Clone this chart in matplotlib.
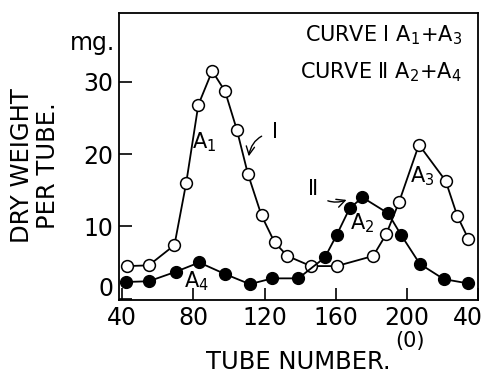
import matplotlib
matplotlib.use("Agg")
import matplotlib.pyplot as plt
from matplotlib.transforms import ScaledTranslation

# Curve I (open circles): A1 + A3
tube_I = [42.8, 55, 69.4, 76, 82.8, 90.6, 97.8, 104.4, 110.6, 118.3, 125.6,
          132.8, 146, 160.5, 181, 188.3, 195.6, 206.7, 221.7, 228.3, 234.4]
weight_I = [4.5, 4.6, 7.4, 16.0, 26.8, 31.5, 28.7, 23.4, 17.3, 11.5, 7.8,
            5.9, 4.5, 4.5, 5.9, 8.9, 13.4, 21.3, 16.3, 11.4, 8.3]

# Curve II (filled circles): A2 + A4
tube_II = [42.2, 55, 70, 83.3, 97.8, 111.7, 124.4, 139, 153.9, 160.5, 167.8,
           175, 189.4, 196.7, 207.2, 220.6, 234.4]
weight_II = [2.3, 2.4, 3.7, 5.0, 3.4, 2.0, 2.8, 2.8, 5.7, 8.8, 12.5,
             14.0, 11.8, 8.8, 4.8, 2.7, 2.1]

x_ticks = [40, 80, 120, 160, 200, 240]
x_tick_labels = ["40", "80", "120", "160", "200", "40"]
y_ticks = [0, 10, 20, 30]

plt.rcParams["font.family"] = ["DejaVu Sans"]

fig = plt.figure(figsize=(4.86, 3.76), dpi=100)
ax = fig.add_axes([0.245, 0.202, 0.739, 0.763])

ax.plot(tube_I, weight_I, color="black", lw=1.3, marker="o", ms=8.5,
        mfc="white", mec="black", mew=1.1, zorder=3)
ax.plot(tube_II, weight_II, color="black", lw=1.3, marker="o", ms=8.5,
        mfc="black", mec="black", zorder=4)

ax.set_xlim(38.3, 237.8)
ax.set_ylim(-0.2, 39.5)
ax.set_xticks(x_ticks)
ax.set_xticklabels(x_tick_labels)
ax.set_yticks(y_ticks)
ax.tick_params(direction="in", length=9, width=1.2, labelsize=17, pad=4)
for s in ax.spines.values():
    s.set_linewidth(1.3)

# hand-drawn original: "0" sits a bit high, last "40" tucked inside
ax.get_yticklabels()[0].set_transform(
    ax.get_yticklabels()[0].get_transform()
    + ScaledTranslation(0, 12 / 100, fig.dpi_scale_trans))
ax.get_xticklabels()[-1].set_transform(
    ax.get_xticklabels()[-1].get_transform()
    + ScaledTranslation(-10 / 100, 0, fig.dpi_scale_trans))

ax.set_xlabel("TUBE NUMBER.", fontsize=17.5, labelpad=15)
ax.set_ylabel("DRY WEIGHT\nPER TUBE.", fontsize=17.5, linespacing=1.1)
ax.yaxis.set_label_coords(-0.165, 0.47)

fig.text(93 / 486, 1 - 43 / 376, "mg.", fontsize=17, ha="center", va="center")
fig.text(410 / 486, 1 - 341 / 376, "(0)", fontsize=15, ha="center", va="center")

ax.text(0.955, 0.965, r"CURVE Ⅰ $\mathregular{A_1}$+$\mathregular{A_3}$",
        transform=ax.transAxes, ha="right", va="top", fontsize=15)
ax.text(0.955, 0.835, r"CURVE Ⅱ $\mathregular{A_2}$+$\mathregular{A_4}$",
        transform=ax.transAxes, ha="right", va="top", fontsize=15)

lbl = dict(fontsize=15, ha="center", va="center")
ax.text(86, 21.6, r"$\mathregular{A_1}$", **lbl)
ax.text(175, 10.4, r"$\mathregular{A_2}$", **lbl)
ax.text(208.3, 17.0, r"$\mathregular{A_3}$", **lbl)
ax.text(82, 2.4, r"$\mathregular{A_4}$", **lbl)

ax.annotate("Ⅰ", xy=(111, 19.5), xytext=(126, 23), fontsize=15,
            ha="center", va="center",
            arrowprops=dict(arrowstyle="->", lw=1.0, color="black",
                            connectionstyle="arc3,rad=0.4",
                            shrinkA=6, shrinkB=1))
ax.annotate("Ⅱ", xy=(167.5, 13.8), xytext=(147, 15.2), fontsize=15,
            ha="center", va="center",
            arrowprops=dict(arrowstyle="->", lw=1.0, color="black",
                            connectionstyle="arc3,rad=0.4",
                            shrinkA=6, shrinkB=2))

fig.savefig("out.png", dpi=100)
